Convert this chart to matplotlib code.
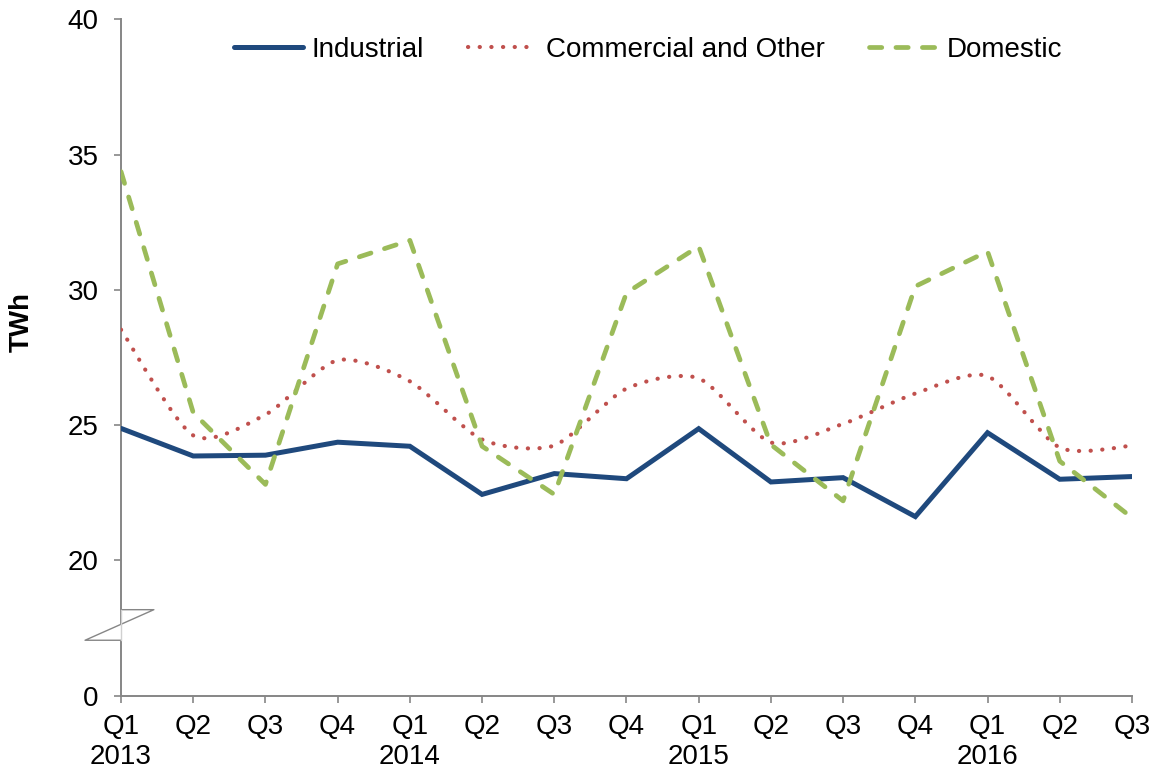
import numpy as np
import matplotlib.pyplot as plt
from matplotlib.lines import Line2D
from matplotlib.path import Path
from matplotlib.patches import PathPatch
import matplotlib.transforms as mtransforms

plt.rcParams['font.family'] = ['Liberation Sans', 'DejaVu Sans']

# quarterly electricity sales, TWh
quarters = ['Q1\n2013', 'Q2', 'Q3', 'Q4',
            'Q1\n2014', 'Q2', 'Q3', 'Q4',
            'Q1\n2015', 'Q2', 'Q3', 'Q4',
            'Q1\n2016', 'Q2', 'Q3']
industrial = [24.88, 23.86, 23.89, 24.37, 24.22, 22.44, 23.21, 23.02,
              24.87, 22.90, 23.06, 21.62, 24.72, 23.00, 23.10]
commercial = [28.53, 24.62, 25.39, 27.40, 26.62, 24.47, 24.25, 26.35,
              26.73, 24.36, 25.05, 26.17, 26.81, 24.17, 24.24]
domestic = [34.37, 25.46, 22.81, 30.96, 31.83, 24.22, 22.44, 29.89,
            31.61, 24.28, 22.20, 30.13, 31.42, 23.67, 21.58]

# the axis is broken below 20: the bottom label "0" sits where 15 would be
ytick_vals = [15, 20, 25, 30, 35, 40]
ytick_labels = ['0', '20', '25', '30', '35', '40']

c_ind = '#1F497D'
c_com = '#C0504D'
c_dom = '#9BBB59'
axis_col = '#868686'
fs = 20


def smooth_path(xs, ys, k=8.0):
    # smoothed line: cubic bezier through each point
    pts = np.column_stack([xs, ys])
    n = len(pts)
    verts = [pts[0]]
    codes = [Path.MOVETO]
    for i in range(n - 1):
        p0 = pts[max(i - 1, 0)]
        p1 = pts[i]
        p2 = pts[i + 1]
        p3 = pts[min(i + 2, n - 1)]
        c1 = p1 + (p2 - p0) / k
        c2 = p2 - (p3 - p1) / k
        verts += [c1, c2, p2]
        codes += [Path.CURVE4] * 3
    return Path(verts, codes)


fig = plt.figure(figsize=(11.56, 7.75), dpi=100)
ax = fig.add_axes([0.1047, 0.1023, 0.8745, 0.8728])

x = np.arange(len(quarters))

ax.plot(x, industrial, color=c_ind, lw=3.6, solid_joinstyle='miter',
        solid_capstyle='round', zorder=3)

com_style = (0, (0.05, 2.75))
ax.add_patch(PathPatch(smooth_path(x, commercial), fill=False, edgecolor=c_com,
                       lw=3.0, linestyle=com_style, capstyle='round', zorder=3))

dom_style = (0, (2.6, 3.0))
ax.plot(x, domestic, color=c_dom, lw=3.4, linestyle=dom_style,
        dash_capstyle='round', dash_joinstyle='round', zorder=4)

ax.set_xlim(0, len(quarters) - 1)
ax.set_ylim(15, 40)
ax.set_xticks(x)
ax.set_xticklabels(quarters, fontsize=fs)
ax.set_yticks(ytick_vals)
ax.set_yticklabels(ytick_labels, fontsize=fs)

for s in ['top', 'right']:
    ax.spines[s].set_visible(False)
for s in ['left', 'bottom']:
    ax.spines[s].set_color(axis_col)
    ax.spines[s].set_linewidth(1.4)
ax.tick_params(axis='both', direction='out', length=5, width=1.2, color=axis_col)
ax.tick_params(axis='y', pad=11)
ax.tick_params(axis='x', pad=8)

# break mark on the y axis
brk = mtransforms.blended_transform_factory(ax.transAxes, ax.transData)
bx = [0.0, 0.0325, -0.0356, 0.0]
by = [18.18, 18.18, 17.05, 17.05]
ax.fill(bx, by, color='white', transform=brk, clip_on=False, zorder=5, lw=0)
ax.plot(bx, by, color=axis_col, lw=1.0, transform=brk, clip_on=False, zorder=6)
ax.plot([0, 0], [17.05, 18.18], color='#d0d0d0', lw=1.0, transform=brk,
        clip_on=False, zorder=6)

fig.text(22 / 1156, 1 - 322 / 775, 'TWh', rotation=90, fontsize=fs,
         fontweight='bold', ha='center', va='center')

handles = [
    Line2D([], [], color=c_ind, lw=3.6, solid_capstyle='round'),
    Line2D([], [], color=c_com, lw=3.0, linestyle=com_style, dash_capstyle='round'),
    Line2D([], [], color=c_dom, lw=3.4, linestyle=dom_style, dash_capstyle='round'),
]
fig.legend(handles, ['Industrial', 'Commercial and Other', 'Domestic'],
           loc='center', bbox_to_anchor=(648 / 1156, 1 - 50 / 775), ncol=3,
           frameon=False, fontsize=fs, handlelength=2.5, handletextpad=0.3,
           columnspacing=1.6)

fig.savefig('out.png', dpi=100)
